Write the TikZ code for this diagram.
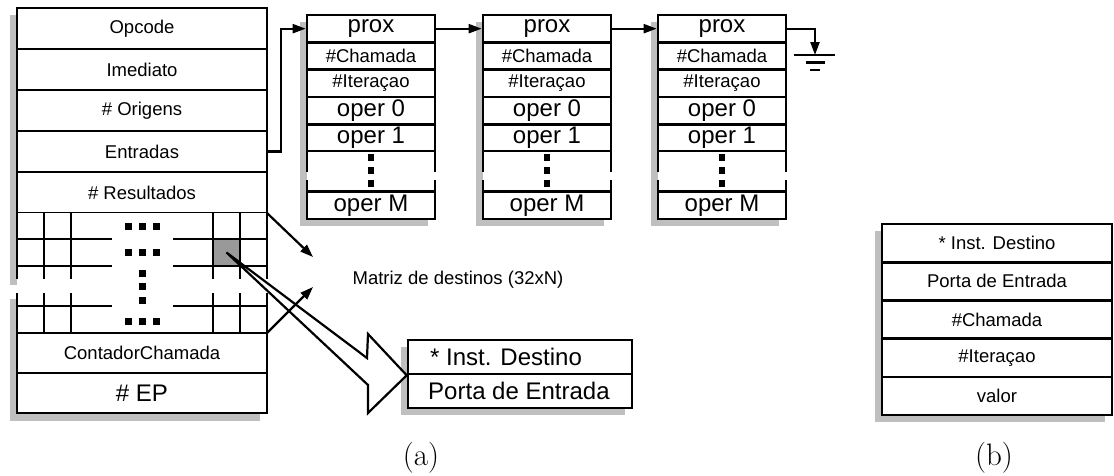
\documentclass[tikz,border=0pt]{standalone}
\usepackage{fontspec}
\newfontfamily\arial{Liberation Sans}
\usepackage{tikz}
\usetikzlibrary{arrows.meta,positioning}

\tikzset{
  campo/.style={draw, fill=white, line width=2.6pt, inner sep=0pt,
    font=\arial\fontsize{18.5}{20}\selectfont},
  grande/.style={font=\arial\fontsize{24}{26}\selectfont},
  sombra/.style={fill=black!25},
  grade/.style={line width=2.3pt},
  seta/.style={line width=2.2pt, -{Triangle[length=13pt,width=9pt]}},
  ponto/.style={fill=black, minimum width=7pt, minimum height=7pt, inner sep=0pt},
}

\begin{document}
\begin{tikzpicture}[x=1pt,y=-1pt]
    \useasboundingbox (0,0) rectangle (1114,475);

    % (a) tabela da instrucao
    \fill[sombra] (10,15) rectangle (260,285);
    \fill[sombra] (10,299) rectangle (260,421);
    \foreach \t [count=\i] in {Opcode,Imediato,\# Origens,Entradas,\# Resultados}
    {
      \pgfmathsetmacro{\yy}{8+41*(\i-1)+20.5}
      \node [campo, minimum width=250pt, minimum height=41pt] (r\i) at (142,\yy) {\t};
    }
    \fill[white] (17,213) rectangle (267,333);
    \foreach \x in {17,44,71,213,240,267}
    {
      \draw[grade] (\x,213) -- (\x,279);
      \draw[grade] (\x,293) -- (\x,333);
    }
    \foreach \y in {239,266,306}
    {
      \draw[grade] (17,\y) -- (112,\y);
      \draw[grade] (173,\y) -- (267,\y);
    }
    \node [draw, grade, fill=black!40, minimum size=27pt, inner sep=0pt] (alvo) at (226.5,252.5) {};
    \foreach \y [count=\i] in {226,252,321}
    {
      \foreach \x [count=\j] in {128,142,156}
        \node [ponto] (pt\i\j) at (\x,\y) {};
    }
    \foreach \y [count=\i] in {273,286,300}
      \node [ponto] (pv\i) at (142,\y) {};
    \node [campo, minimum width=250pt, minimum height=40pt] (cont) at (142,353) {ContadorChamada};
    \node [campo, grande, minimum width=250pt, minimum height=40pt] (ep) at (142,393) {\# EP};

    % lista de entradas
    \foreach \b/\cx in {1/371,2/547,3/722}
    {
      \fill[sombra] (\cx-71,22) rectangle (\cx+57,226);
      \node [campo, grande, minimum width=128pt, minimum height=27.3pt] (p\b) at (\cx,28.65) {prox};
      \node [campo, minimum width=128pt, minimum height=27.3pt] (c\b) at (\cx,55.95) {\#Chamada};
      \node [campo, minimum width=128pt, minimum height=27.3pt] (t\b) at (\cx,83.25) {\#Iteraçao};
      \node [campo, grande, minimum width=128pt, minimum height=27.3pt] (o\b) at (\cx,110.55) {oper 0};
      \node [campo, grande, minimum width=128pt, minimum height=27.3pt] (u\b) at (\cx,137.85) {oper 1};
      \fill[white] (\cx-64,151.5) rectangle (\cx+64,191.6);
      \draw[line width=2.6pt] (\cx-64,151.5) -- (\cx-64,172) (\cx-64,180) -- (\cx-64,191.6);
      \draw[line width=2.6pt] (\cx+64,151.5) -- (\cx+64,172) (\cx+64,180) -- (\cx+64,191.6);
      \foreach \y [count=\k] in {157,170,183}
        \node [ponto, minimum width=6pt] (d\b\k) at (\cx,\y) {};
      \node [campo, grande, minimum width=128pt, minimum height=27.3pt] (m\b) at (\cx,205.25) {oper M};
    }
    \draw[seta] (r4.east) -- ++(13,0) |- (p1.west);
    \draw[seta] (p1.east) -- (p2.west);
    \draw[seta] (p2.east) -- (p3.west);
    \coordinate (terra) at (815,55);
    \draw[seta] (p3.east) -| (terra);
    \draw[line width=2.2pt] (794,55) -- (835,55);
    \draw[line width=2.2pt] (806,62.5) -- (825,62.5);
    \draw[line width=2.2pt] (810,70) -- (820,70);

    % destino
    \fill[sombra] (401,347) rectangle (625,415);
    \node [campo, minimum width=224pt, minimum height=34pt,
      label={[grande, anchor=west, xshift=20pt]west:* Inst. Destino}] (dest) at (520,357) {};
    \node [campo, minimum width=224pt, minimum height=34pt,
      label={[grande, anchor=west, xshift=18pt]west:Porta de Entrada}] (porta) at (520,391) {};
    \draw[line width=2.2pt, fill=white] (alvo.center) -- (367,358) -- (368,334)
      -- (dest.south west) -- (368,413) -- (368,385) -- cycle;

    % matriz
    \coordinate (gtop) at (267,213);
    \coordinate (gbot) at (267,333);
    \node [font=\arial\fontsize{18.5}{20}\selectfont] (matriz) at (458,280) {Matriz de destinos (32xN)};
    \draw[seta] (gtop) -- (313,257);
    \draw[seta] (gbot) -- (313,287);

    % (b) operando
    \fill[sombra] (875,231) rectangle (1105,422);
    \foreach \t [count=\i] in {* Inst. Destino,Porta de Entrada,\#Chamada,\#Iteraçao,valor}
    {
      \pgfmathsetmacro{\yy}{224+38.2*(\i-1)+19.1}
      \node [campo, minimum width=230pt, minimum height=38.2pt] (b\i) at (997,\yy) {\t};
    }

    \node [font=\fontsize{31}{33}\selectfont, anchor=base] (lega) at (421,465) {(a)};
    \node [font=\fontsize{31}{33}\selectfont, anchor=base] (legb) at (994,465) {(b)};
  \end{tikzpicture}
\end{document}
